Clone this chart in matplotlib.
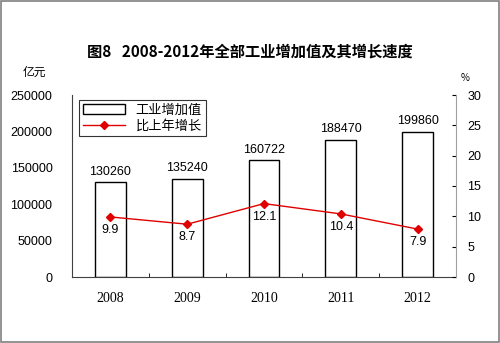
import numpy as np
import matplotlib.pyplot as plt
from matplotlib.patches import Rectangle

plt.rcParams['font.family'] = ['Noto Sans CJK SC', 'DejaVu Sans']

years = ['2008', '2009', '2010', '2011', '2012']
value = [130260, 135240, 160722, 188470, 199860]
growth = [9.9, 8.7, 12.1, 10.4, 7.9]

fig = plt.figure(figsize=(5, 3.43), dpi=100)
fig.patches.append(Rectangle((0.002, 0.003), 0.995, 0.994, transform=fig.transFigure,
                             fill=False, edgecolor='#808080', linewidth=1.2))

ax = fig.add_axes([72/500, 1-277/343, 384/500, 182/343])
x = np.arange(len(years))
bars = ax.bar(x, value, width=0.4, color='white', edgecolor='black', linewidth=1.0,
              label='工业增加值', zorder=2)
for xi, v in zip(x, value):
    ax.text(xi, v + 6000, str(v), ha='center', va='bottom', fontsize=9,
            family=['Liberation Sans', 'DejaVu Sans'])

ax.set_xlim(-0.5, 4.5)
ax.set_ylim(0, 250000)
ax.set_yticks(np.arange(0, 250001, 50000))
ax.set_yticklabels([str(t) for t in range(0, 250001, 50000)],
                   family=['Liberation Sans', 'DejaVu Sans'], fontsize=9)
ax.tick_params(axis='y', length=0, pad=14)
ax.set_xticks(x)
ax.set_xticklabels(years, family=['Liberation Serif', 'DejaVu Serif'], fontsize=10)
ax.tick_params(axis='x', length=0, pad=11)
ax.set_xticks(np.arange(-0.5, 4.6, 1), minor=True)
ax.tick_params(axis='x', which='minor', length=3, direction='in')
ax.spines['top'].set_visible(False)
ax.spines['left'].set_color('#404040')
ax.spines['bottom'].set_color('#404040')
ax.spines['right'].set_visible(False)

ax2 = ax.twinx()
ax2.plot(x, growth, color='#e00000', marker='D', markersize=4, linewidth=1.0,
         label='比上年增长', zorder=3)
for xi, g in zip(x, growth):
    ax2.text(xi, g - 1.2, str(g), ha='center', va='top', fontsize=9,
             family=['Liberation Sans', 'DejaVu Sans'])
ax2.set_ylim(0, 30)
ax2.set_yticks(np.arange(0, 31, 5))
ax2.set_yticklabels([str(t) for t in range(0, 31, 5)],
                    family=['Liberation Sans', 'DejaVu Sans'], fontsize=9)
ax2.tick_params(axis='y', length=3, direction='in', pad=8)
ax2.spines['top'].set_visible(False)
ax2.spines['left'].set_visible(False)
ax2.spines['bottom'].set_visible(False)
ax2.spines['right'].set_color('#a0a0a0')

h1, l1 = ax.get_legend_handles_labels()
h2, l2 = ax2.get_legend_handles_labels()
leg = ax.legend(h1 + h2, l1 + l2, loc='upper left', bbox_to_anchor=(0.0, 1.01),
                fontsize=9.5, frameon=True, fancybox=False, edgecolor='black',
                borderpad=0.3, labelspacing=0.2, handlelength=3.2, handleheight=0.7)
leg.get_frame().set_linewidth(0.8)

fig.text(0.5, 1-52/343, '图8   2008-2012年全部工业增加值及其增长速度', ha='center',
         va='center', fontsize=11, fontweight='bold')
fig.text(34/500, 1-72/343, '亿元', ha='center', va='center', fontsize=8.5)
fig.text(465/500, 1-78/343, '%', ha='center', va='center', fontsize=7)

fig.savefig('out.png', dpi=100)
